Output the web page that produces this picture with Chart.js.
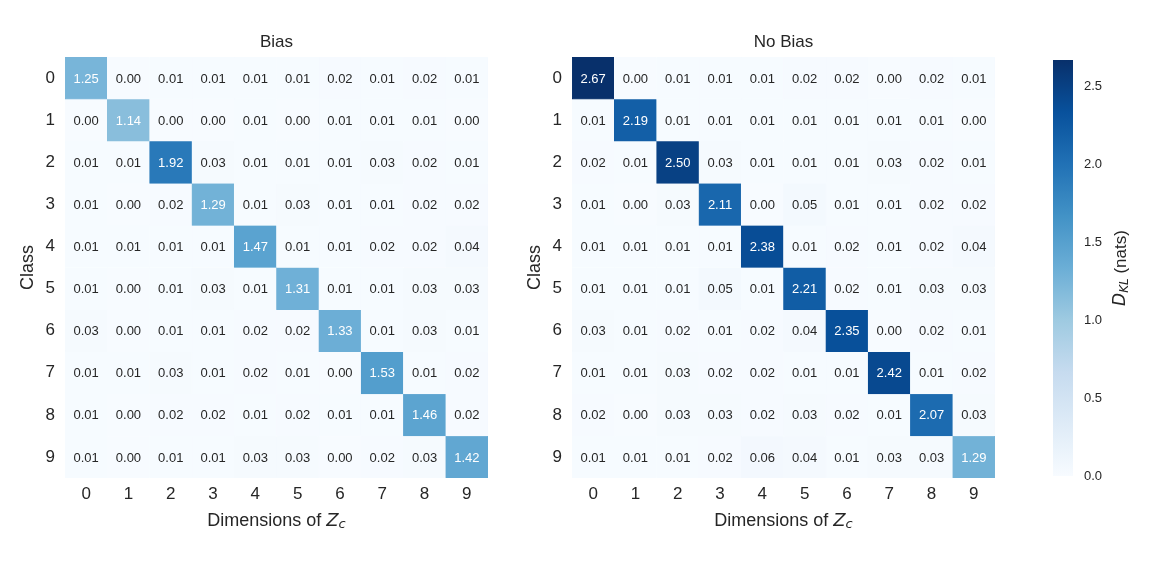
<!DOCTYPE html>
<html lang="en">
<head>
  <meta charset="UTF-8">
  <title>KL divergence heatmaps</title>
  <script src="https://cdn.jsdelivr.net/npm/chart.js"></script>
  <style>
    html, body { margin: 0; padding: 0; background: #fff; }
    #wrap { position: relative; width: 1171px; height: 573px; overflow: hidden; }
    canvas { position: absolute; top: 0; }
  </style>
</head>
<body>
  <div id="wrap">
    <canvas id="biasChart" width="510" height="573" style="left:0px"></canvas>
    <canvas id="noBiasChart" width="510" height="573" style="left:507px"></canvas>
    <canvas id="cbarChart" width="171" height="573" style="left:1000px"></canvas>
  </div>

  <script>
    // data
    const classes = ['0', '1', '2', '3', '4', '5', '6', '7', '8', '9'];
    const dims = ['0', '1', '2', '3', '4', '5', '6', '7', '8', '9'];

    const biasValues = [
      [1.25, 0.00, 0.01, 0.01, 0.01, 0.01, 0.02, 0.01, 0.02, 0.01],
      [0.00, 1.14, 0.00, 0.00, 0.01, 0.00, 0.01, 0.01, 0.01, 0.00],
      [0.01, 0.01, 1.92, 0.03, 0.01, 0.01, 0.01, 0.03, 0.02, 0.01],
      [0.01, 0.00, 0.02, 1.29, 0.01, 0.03, 0.01, 0.01, 0.02, 0.02],
      [0.01, 0.01, 0.01, 0.01, 1.47, 0.01, 0.01, 0.02, 0.02, 0.04],
      [0.01, 0.00, 0.01, 0.03, 0.01, 1.31, 0.01, 0.01, 0.03, 0.03],
      [0.03, 0.00, 0.01, 0.01, 0.02, 0.02, 1.33, 0.01, 0.03, 0.01],
      [0.01, 0.01, 0.03, 0.01, 0.02, 0.01, 0.00, 1.53, 0.01, 0.02],
      [0.01, 0.00, 0.02, 0.02, 0.01, 0.02, 0.01, 0.01, 1.46, 0.02],
      [0.01, 0.00, 0.01, 0.01, 0.03, 0.03, 0.00, 0.02, 0.03, 1.42]
    ];

    const noBiasValues = [
      [2.67, 0.00, 0.01, 0.01, 0.01, 0.02, 0.02, 0.00, 0.02, 0.01],
      [0.01, 2.19, 0.01, 0.01, 0.01, 0.01, 0.01, 0.01, 0.01, 0.00],
      [0.02, 0.01, 2.50, 0.03, 0.01, 0.01, 0.01, 0.03, 0.02, 0.01],
      [0.01, 0.00, 0.03, 2.11, 0.00, 0.05, 0.01, 0.01, 0.02, 0.02],
      [0.01, 0.01, 0.01, 0.01, 2.38, 0.01, 0.02, 0.01, 0.02, 0.04],
      [0.01, 0.01, 0.01, 0.05, 0.01, 2.21, 0.02, 0.01, 0.03, 0.03],
      [0.03, 0.01, 0.02, 0.01, 0.02, 0.04, 2.35, 0.00, 0.02, 0.01],
      [0.01, 0.01, 0.03, 0.02, 0.02, 0.01, 0.01, 2.42, 0.01, 0.02],
      [0.02, 0.00, 0.03, 0.03, 0.02, 0.03, 0.02, 0.01, 2.07, 0.03],
      [0.01, 0.01, 0.01, 0.02, 0.06, 0.04, 0.01, 0.03, 0.03, 1.29]
    ];

    const cbarTicks = [0, 0.5, 1.0, 1.5, 2.0, 2.5];
    const vmin = 0;
    const vmax = 2.67;

    const TEXT = '#262626';
    const SANS = '"Liberation Sans", Arial, sans-serif';

    // matplotlib "Blues"
    const bluesStops = ['#f7fbff', '#deebf7', '#c6dbef', '#9ecae1', '#6baed6', '#4292c6', '#2171b5', '#08519c', '#08306b'];
    const hexRgb = h => [1, 3, 5].map(i => parseInt(h.slice(i, i + 2), 16));
    function blues(t) {
      t = Math.max(0, Math.min(1, t));
      const pos = t * (bluesStops.length - 1);
      const i = Math.min(Math.floor(pos), bluesStops.length - 2);
      const f = pos - i;
      const a = hexRgb(bluesStops[i]), b = hexRgb(bluesStops[i + 1]);
      const c = a.map((v, k) => Math.round(v + (b[k] - v) * f));
      return `rgb(${c[0]},${c[1]},${c[2]})`;
    }
    const norm = v => (v - vmin) / (vmax - vmin);

    // draws text pieces side by side (used for the subscripts)
    function drawPieces(ctx, pieces, x, y, align) {
      ctx.save();
      ctx.textBaseline = 'middle';
      ctx.textAlign = 'left';
      let total = 0;
      pieces.forEach(p => { ctx.font = p.font; total += ctx.measureText(p.text).width; });
      let cx = align === 'center' ? x - total / 2 : x;
      pieces.forEach(p => {
        ctx.font = p.font;
        ctx.fillStyle = TEXT;
        ctx.fillText(p.text, cx, y + (p.dy || 0));
        cx += ctx.measureText(p.text).width;
      });
      ctx.restore();
    }

    const heatLabels = {
      id: 'heatLabels',
      afterDatasetsDraw(chart, args, opts) {
        const { ctx, chartArea, scales } = chart;
        const rows = opts.rows;
        ctx.save();
        ctx.font = `13px ${SANS}`;
        ctx.textAlign = 'center';
        ctx.textBaseline = 'middle';
        rows.forEach((row, r) => {
          row.forEach((v, c) => {
            const x = scales.x.getPixelForValue(c);
            const y = scales.y.getPixelForValue(r);
            ctx.fillStyle = norm(v) > 0.35 ? '#ffffff' : TEXT;
            ctx.fillText(v.toFixed(2), x, y + 1);
          });
        });

        // panel title
        ctx.fillStyle = TEXT;
        ctx.font = `17px ${SANS}`;
        ctx.fillText(opts.title, (chartArea.left + chartArea.right) / 2, 42);

        // y title
        ctx.save();
        ctx.font = `18px ${SANS}`;
        ctx.translate(chartArea.left - 37, (chartArea.top + chartArea.bottom) / 2);
        ctx.rotate(-Math.PI / 2);
        ctx.fillText('Class', 0, 0);
        ctx.restore();
        ctx.restore();

        // x title with math
        drawPieces(ctx, [
          { text: 'Dimensions of ', font: `18px ${SANS}` },
          { text: 'Z', font: `italic 18px "DejaVu Sans", sans-serif` },
          { text: 'c', font: `italic 13px "DejaVu Sans", sans-serif`, dy: 4 }
        ], (chartArea.left + chartArea.right) / 2, 521, 'center');
      }
    };

    function heatmap(id, rows, title) {
      const datasets = rows.map((row, r) => ({
        label: classes[r],
        data: dims.map(() => [r - 0.5, r + 0.5]),
        backgroundColor: row.map(v => blues(norm(v))),
        borderColor: row.map(v => blues(norm(v))),
        borderWidth: 0.6,
        borderSkipped: false,
        barPercentage: 1,
        categoryPercentage: 1,
        grouped: false
      }));

      return new Chart(document.getElementById(id), {
        type: 'bar',
        data: { labels: dims, datasets },
        options: {
          responsive: false,
          animation: false,
          layout: { padding: { left: 0, top: 57, right: 22, bottom: 65 } },
          plugins: {
            legend: { display: false },
            tooltip: { enabled: false },
            heatLabels: { rows, title }
          },
          scales: {
            x: {
              grid: { display: false, drawTicks: false },
              border: { display: false },
              ticks: { color: TEXT, font: { family: SANS, size: 17 }, padding: 6, maxRotation: 0 },
              afterFit: s => { s.height = 30; }
            },
            y: {
              type: 'linear',
              reverse: true,
              min: -0.5,
              max: 9.5,
              grid: { display: false, drawTicks: false },
              border: { display: false },
              afterBuildTicks: s => { s.ticks = classes.map((c, i) => ({ value: i })); },
              ticks: {
                color: TEXT,
                font: { family: SANS, size: 17 },
                padding: 10,
                callback: v => classes[v]
              },
              afterFit: s => { s.width = 65; }
            }
          }
        },
        plugins: [heatLabels]
      });
    }

    heatmap('biasChart', biasValues, 'Bias');
    heatmap('noBiasChart', noBiasValues, 'No Bias');

    // colour bar
    const cbarTitle = {
      id: 'cbarTitle',
      afterDraw(chart) {
        const { ctx, chartArea } = chart;
        ctx.save();
        ctx.translate(chartArea.right + 48, (chartArea.top + chartArea.bottom) / 2);
        ctx.rotate(-Math.PI / 2);
        drawPieces(ctx, [
          { text: 'D', font: `italic 17px "DejaVu Sans", sans-serif` },
          { text: 'KL', font: `italic 12px "DejaVu Sans", sans-serif`, dy: 4 },
          { text: ' (nats)', font: `17px ${SANS}` }
        ], 0, 0, 'center');
        ctx.restore();
      }
    };

    new Chart(document.getElementById('cbarChart'), {
      type: 'bar',
      data: {
        labels: [''],
        datasets: [{
          data: [[vmin, vmax]],
          backgroundColor: ctx => {
            const area = ctx.chart.chartArea;
            if (!area) return bluesStops[0];
            const g = ctx.chart.ctx.createLinearGradient(0, area.bottom, 0, area.top);
            bluesStops.forEach((c, i) => g.addColorStop(i / (bluesStops.length - 1), c));
            return g;
          },
          borderWidth: 0,
          barPercentage: 1,
          categoryPercentage: 1
        }]
      },
      options: {
        responsive: false,
        animation: false,
        layout: { padding: { left: 53, top: 60, right: 38, bottom: 97 } },
        plugins: { legend: { display: false }, tooltip: { enabled: false } },
        scales: {
          x: { display: false },
          y: {
            position: 'right',
            min: vmin,
            max: vmax,
            grid: { display: false, drawTicks: false },
            border: { display: false },
            afterBuildTicks: s => { s.ticks = cbarTicks.map(v => ({ value: v })); },
            ticks: {
              color: TEXT,
              font: { family: SANS, size: 13 },
              padding: 11,
              callback: v => v.toFixed(1)
            },
            afterFit: s => { s.width = 60; }
          }
        }
      },
      plugins: [cbarTitle]
    });
  </script>
</body>
</html>
